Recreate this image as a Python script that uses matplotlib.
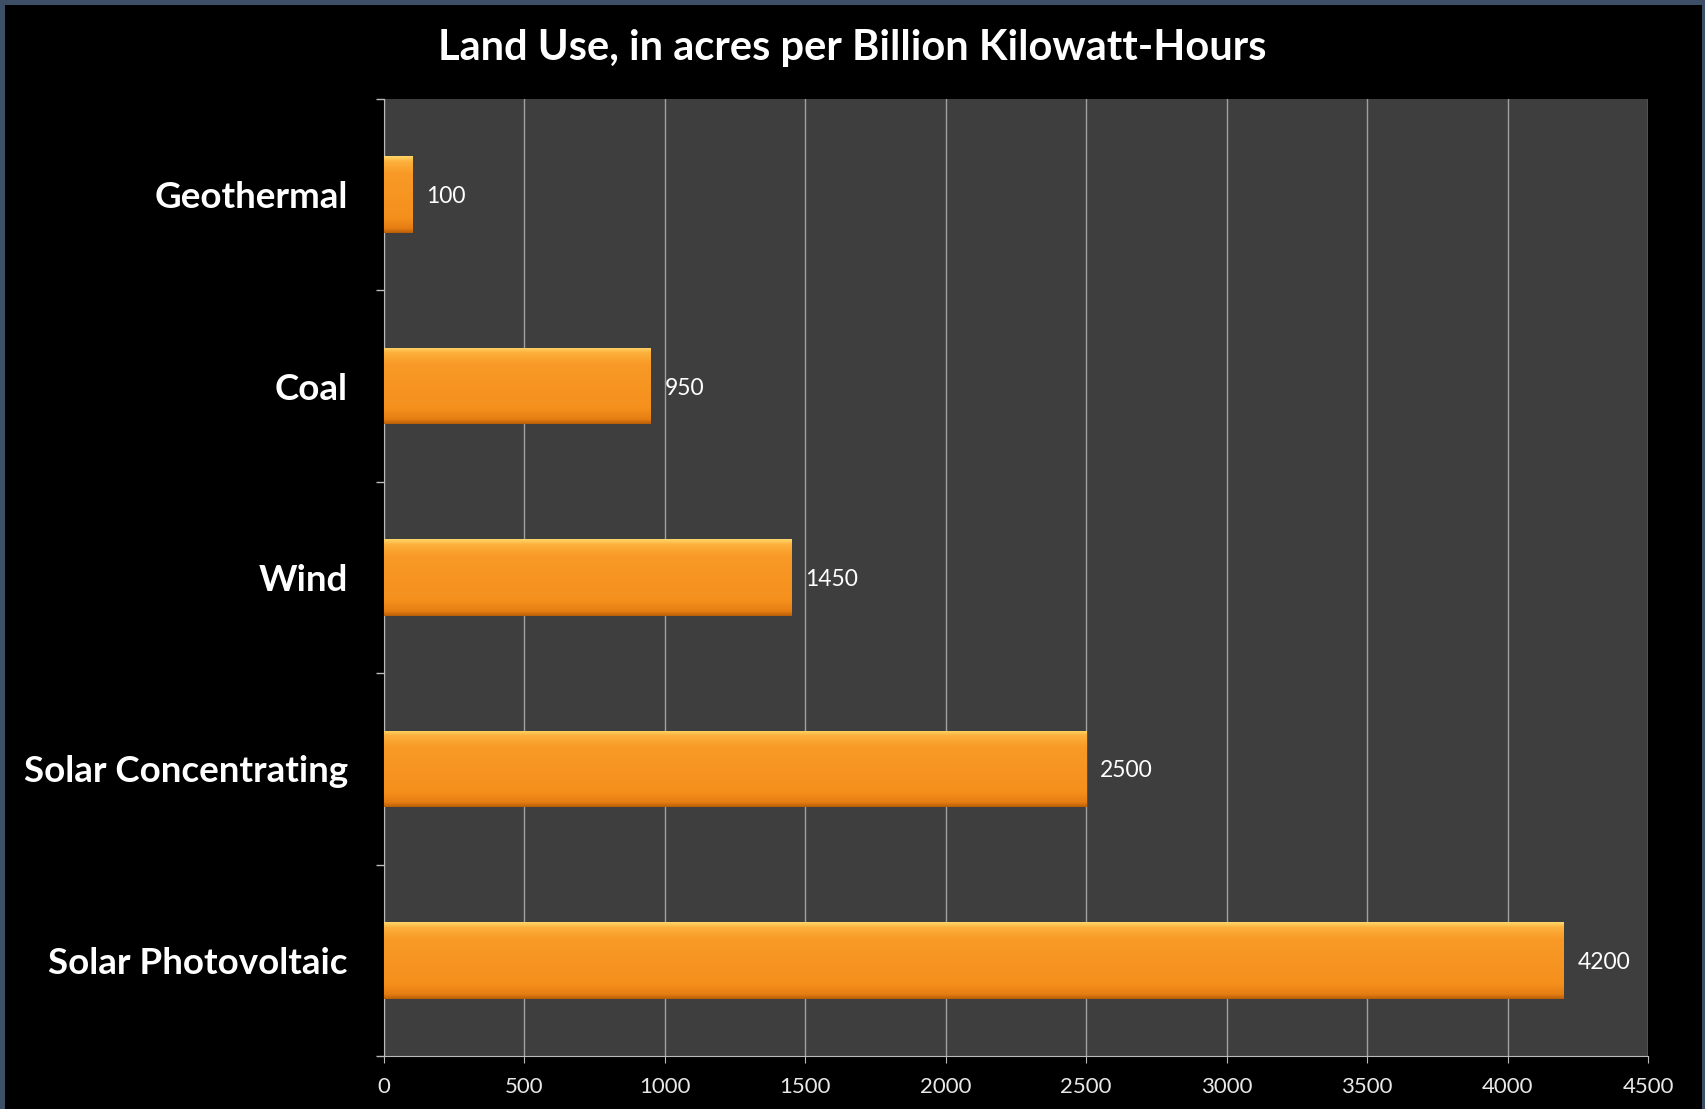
import numpy as np
import matplotlib
matplotlib.use("Agg")
import matplotlib.pyplot as plt
from matplotlib.patches import Rectangle
from matplotlib.colors import LinearSegmentedColormap

# data
categories = ["Geothermal", "Coal", "Wind", "Solar Concentrating", "Solar Photovoltaic"]
acres = [100, 950, 1450, 2500, 4200]
x_ticks = [0, 500, 1000, 1500, 2000, 2500, 3000, 3500, 4000, 4500]
title = "Land Use, in acres per Billion Kilowatt-Hours"

plt.rcParams['font.family'] = ['Lato', 'DejaVu Sans']

fig = plt.figure(figsize=(17.05, 11.09), dpi=100)
fig.patch.set_facecolor('#3d4f66')
# black slide area inside the thin blue-grey frame
fig.patches.append(Rectangle((5 / 1705, 0), 1 - 8 / 1705, 1 - 5 / 1109,
                             transform=fig.transFigure, facecolor='black',
                             edgecolor='none', zorder=-10))

ax = fig.add_axes([0.2252, 0.0478, 0.9666 - 0.2252, 0.9107 - 0.0478])
ax.set_zorder(1)
ax.set_facecolor('#3e3e3e')

y = np.arange(len(categories))
bars = ax.barh(y, acres, height=0.4, color='#f7931e', zorder=3)

# shaded fill for each bar (light top edge, darker bottom)
bar_cmap = LinearSegmentedColormap.from_list(
    'bar', [(0.0, '#ffd86a'), (0.07, '#fdb03c'), (0.22, '#f99a26'),
            (0.8, '#f5901d'), (0.94, '#e57d12'), (1.0, '#b85e08')])
grad = np.linspace(0, 1, 256).reshape(-1, 1)
for b in bars:
    x0, y0, w, h = b.get_x(), b.get_y(), b.get_width(), b.get_height()
    im = ax.imshow(grad, cmap=bar_cmap, aspect='auto', zorder=4,
                   extent=[x0, x0 + w, y0 + h, y0], origin='upper')
    im.set_clip_path(b)

for b, v in zip(bars, acres):
    ax.annotate(str(v), (b.get_width(), b.get_y() + b.get_height() / 2),
                xytext=(10, 0), textcoords='offset points',
                va='center_baseline', ha='left', color='white',
                fontsize=16.5, zorder=5)

ax.set_xlim(0, 4500)
ax.set_ylim(len(categories) - 0.5, -0.5)
ax.set_xticks(x_ticks)
ax.set_xticklabels([str(t) for t in x_ticks])
ax.set_yticks(y)
ax.set_yticklabels(categories)
ax.set_yticks(np.arange(len(categories) + 1) - 0.5, minor=True)

ax.grid(axis='x', color='#a0a0a0', linewidth=1.0, zorder=1)
ax.set_axisbelow(True)

ax.tick_params(axis='y', which='major', length=0, pad=26, labelsize=26.5,
               labelcolor='white')
ax.tick_params(axis='y', which='minor', length=6, color='#bbbbbb', width=1)
ax.tick_params(axis='x', length=5, color='#bbbbbb', pad=10, labelsize=16,
               labelcolor='#e8e8e8')
for lbl in ax.get_yticklabels():
    lbl.set_fontweight('bold')

for s in ['top', 'right']:
    ax.spines[s].set_visible(False)
ax.spines['left'].set_color('#bbbbbb')
ax.spines['bottom'].set_color('#bbbbbb')

fig.text(0.4997, 0.957, title, ha='center', va='center', color='white',
         fontsize=30, fontweight='bold')

fig.savefig('out.png', dpi=100, facecolor=fig.get_facecolor())
